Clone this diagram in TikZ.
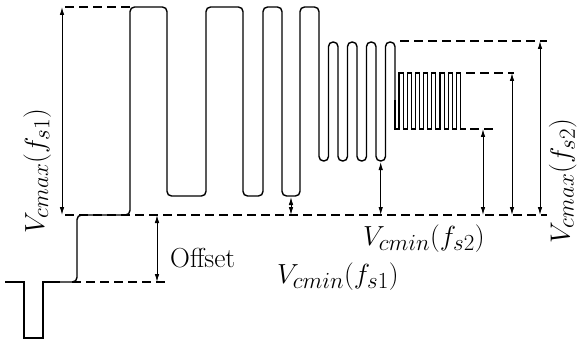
\documentclass[tikz,border=0pt]{standalone}
\usetikzlibrary{arrows.meta}
\DeclareMathSizes{24.5}{24.5}{20.5}{16}
\newcommand{\biglab}[1]{\scalebox{1.11}{$#1$}}
\begin{document}
\begin{tikzpicture}[x=1pt,y=-1pt,
  wave/.style={line width=1.4pt, line join=round},
  tinywave/.style={line width=1.1pt, line join=miter},
  dashline/.style={line width=1.2pt, dash pattern=on 8.5pt off 5.5pt},
  dim/.style={line width=0.9pt, {Latex[length=8pt,width=4.5pt]}-{Latex[length=8pt,width=4.5pt]}},
  lab/.style={font=\fontsize{24.5}{30}\selectfont, inner sep=0pt},
  txt/.style={font=\fontsize{27.5}{32}\selectfont, inner sep=0pt}]
\useasboundingbox (0,0) rectangle (578,342);
% waveform
\draw[wave, line join=miter] (5,282) -- (24,282) -- (24,338) -- (43,338) -- (43,282) -- (60,282);
\draw[wave, rounded corners=4.5pt] (60,282) -- (77,282) -- (77,215) -- (130,215) -- (130,7) -- (167,7)
  -- (167,196) -- (206,196) -- (206,7) -- (243,7) -- (243,196) -- (263,196) -- (263,7) -- (282,7)
  -- (282,196) -- (300,196) -- (300,7) -- (319,7) -- (319,161) -- (328.5,161) -- (328.5,42) -- (338,42)
  -- (338,161) -- (347.5,161) -- (347.5,42) -- (357,42) -- (357,161) -- (366.5,161) -- (366.5,42)
  -- (376,42) -- (376,161) -- (385.5,161) -- (385.5,42) -- (395,42) -- (395,100);
\draw[tinywave] (395,100) -- (395,129)
  \foreach \k in {0,...,7}{ -- ({399+8.2*\k},129) -- ({399+8.2*\k},73) -- ({403.1+8.2*\k},73) -- ({403.1+8.2*\k},129) }
  -- (466,129);
% reference levels
\coordinate (t1a) at (65,7);    \coordinate (t1b) at (130,7);
\coordinate (b0a) at (65,215);  \coordinate (b0b) at (547,215);
\coordinate (o1a) at (72,282);  \coordinate (o1b) at (167,282);
\coordinate (t2a) at (400,41);  \coordinate (t2b) at (547,41);
\coordinate (t3a) at (466,73);  \coordinate (t3b) at (514,73);
\coordinate (b3a) at (470,129); \coordinate (b3b) at (493,129);
\draw[dashline] (t1a) -- (t1b);
\draw[dashline] (b0a) -- (b0b);
\draw[dashline] (o1a) -- (o1b);
\draw[dashline] (t2a) -- (t2b);
\draw[dashline] (t3a) -- (t3b);
\draw[dashline] (b3a) -- (b3b);
% dimension arrows
\coordinate (a1t) at (62,7);    \coordinate (a1b) at (62,215);
\coordinate (a2t) at (157,215); \coordinate (a2b) at (157,282);
\coordinate (a3t) at (291,197); \coordinate (a3b) at (291,215);
\coordinate (a4t) at (380.7,162); \coordinate (a4b) at (380.7,215);
\coordinate (a5t) at (483,129); \coordinate (a5b) at (483,215);
\coordinate (a6t) at (512,73);  \coordinate (a6b) at (512,215);
\coordinate (a7t) at (540,41);  \coordinate (a7b) at (540,215);
\draw[dim] (a1t) -- (a1b);
\draw[dim] (a2t) -- (a2b);
\draw[dim] (a3t) -- (a3b);
\draw[dim] (a4t) -- (a4b);
\draw[dim] (a5t) -- (a5b);
\draw[dim] (a6t) -- (a6b);
\draw[dim] (a7t) -- (a7b);
% labels
\node[txt, anchor=base west] (offset) at (170,267) {Offset};
\node[lab, anchor=base west] (vmin2) at (363,245) {\biglab{V_{cmin}(f_{s2})}};
\node[lab, anchor=base west] (vmin1) at (277,283) {\biglab{V_{cmin}(f_{s1})}};
\node[lab, anchor=base west, rotate=90] (vmax1) at (44,234) {\biglab{V_{cmax}(f_{s1})}};
\node[lab, anchor=base west, rotate=90] (vmax2) at (569.5,244) {\biglab{V_{cmax}(f_{s2})}};
\end{tikzpicture}
\end{document}
